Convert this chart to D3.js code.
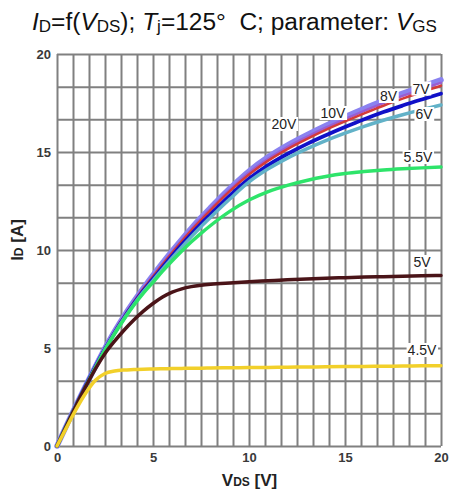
<!DOCTYPE html>
<html>
<head>
<meta charset="utf-8">
<script src="https://cdn.jsdelivr.net/npm/d3@7"></script>
<style>
  html, body { margin: 0; padding: 0; background: #fff; }
  svg { display: block; font-family: "Liberation Sans", Arial, sans-serif; }
</style>
</head>
<body>
<svg id="chart" width="451" height="490"></svg>
<script>
// ---- data ----
const vds  = [0,0.5,1,1.5,2,2.5,3,3.5,4,4.5,5,5.5,6,6.5,7,7.5,8,9,10,11,12,13,14,15,16,17,18,19,20];
const id20 = [0,1.06,2.09,3.09,4.06,5.0,5.86,6.65,7.38,8.07,8.72,9.35,9.96,10.55,11.12,11.66,12.17,13.15,14.03,14.75,15.35,15.87,16.35,16.8,17.22,17.62,17.99,18.34,18.68];
const id10 = [0,1.06,2.09,3.09,4.06,5.0,5.85,6.64,7.36,8.05,8.68,9.3,9.91,10.5,11.06,11.6,12.1,13.07,13.94,14.65,15.25,15.76,16.24,16.68,17.1,17.49,17.86,18.2,18.53];
const id8  = [0,1.06,2.09,3.09,4.06,4.99,5.84,6.62,7.34,8.02,8.64,9.26,9.86,10.44,11.0,11.53,12.03,13.0,13.85,14.56,15.15,15.66,16.13,16.56,16.97,17.36,17.72,18.06,18.38];
const id7  = [0,1.06,2.09,3.09,4.05,4.95,5.78,6.55,7.26,7.92,8.52,9.12,9.71,10.28,10.82,11.34,11.82,12.77,13.63,14.33,14.9,15.4,15.85,16.27,16.67,17.04,17.37,17.68,17.98];
const id6  = [0,1.05,2.07,3.06,4.01,4.93,5.76,6.52,7.22,7.86,8.44,9.03,9.6,10.15,10.68,11.19,11.67,12.6,13.47,14.14,14.69,15.16,15.58,15.96,16.31,16.62,16.9,17.16,17.4];
const id55 = [0,1.05,2.06,3.04,3.99,4.9,5.72,6.48,7.18,7.8,8.35,8.92,9.45,9.95,10.42,10.85,11.25,11.97,12.55,12.98,13.3,13.55,13.75,13.9,14.0,14.08,14.14,14.19,14.23];
const id5  = [0,1.05,2.07,3.04,3.94,4.72,5.35,5.92,6.43,6.88,7.27,7.6,7.85,8.02,8.13,8.2,8.25,8.32,8.38,8.43,8.48,8.52,8.56,8.59,8.62,8.64,8.66,8.68,8.7];
const id45 = [0,0.95,1.88,2.7,3.35,3.7,3.83,3.88,3.9,3.92,3.93,3.94,3.95,3.96,3.97,3.97,3.98,3.99,4.0,4.01,4.02,4.03,4.04,4.05,4.06,4.07,4.08,4.09,4.1];
const seriesNames = ["20V","10V","8V","7V","6V","5.5V","5V","4.5V"];
const xTicks = [0,5,10,15,20];
const yTicks = [0,5,10,15,20];

// ---- styling ----
const series = [
  {name:"20V",  vals:id20, color:"#8a82f0", w:5.5},
  {name:"10V",  vals:id10, color:"#9a5ed2", w:2.5},
  {name:"8V",   vals:id8,  color:"#d43a3a", w:2.5},
  {name:"7V",   vals:id7,  color:"#1010c8", w:3.8},
  {name:"6V",   vals:id6,  color:"#62b2c8", w:3.5},
  {name:"5.5V", vals:id55, color:"#2ee46a", w:3.5},
  {name:"5V",   vals:id5,  color:"#4a1418", w:3.5},
  {name:"4.5V", vals:id45, color:"#f2d02a", w:3.5}
];
const labelPos = {
  "20V":[284,124], "10V":[333,113], "8V":[388.5,96], "7V":[421,88.5],
  "6V":[424,114], "5.5V":[418,157], "5V":[422,262], "4.5V":[422,350]
};

const svg = d3.select("#chart");
const x = d3.scaleLinear().domain([0,20]).range([57,441]);
const y = d3.scaleLinear().domain([0,20]).range([446,54]);
const gridColor = "#808080";

// grid via axes
const gx = svg.append("g").attr("transform","translate(0,446)")
  .call(d3.axisBottom(x).tickValues(d3.range(0,25).map(i=>i*5/6)).tickSize(-392).tickFormat(""));
const gy = svg.append("g").attr("transform","translate(57,0)")
  .call(d3.axisLeft(y).tickValues(d3.range(0,13).map(i=>i*5/3)).tickSize(-384).tickFormat(""));
[gx,gy].forEach(g=>{
  g.select(".domain").remove();
  g.selectAll("line").attr("stroke",gridColor).attr("stroke-width",2);
});

// tick labels
const ax = svg.append("g").attr("transform","translate(0,446)")
  .call(d3.axisBottom(x).tickValues(xTicks).tickSize(0).tickPadding(7).tickFormat(d3.format("d")));
const ay = svg.append("g").attr("transform","translate(57,0)")
  .call(d3.axisLeft(y).tickValues(yTicks).tickSize(0).tickPadding(6).tickFormat(d3.format("d")));
[ax,ay].forEach(g=>{
  g.select(".domain").remove();
  g.selectAll("text").attr("font-family","Liberation Sans, Arial, sans-serif")
    .attr("font-size",13).attr("font-weight","bold").attr("fill","#3a3a3a");
});

// curves
const line = d3.line().x((d,i)=>x(vds[i])).y(d=>y(d)).curve(d3.curveMonotoneX);
svg.append("g").selectAll("path").data(series).join("path")
  .attr("d",d=>line(d.vals)).attr("fill","none")
  .attr("stroke",d=>d.color).attr("stroke-width",d=>d.w)
  .attr("stroke-linejoin","round").attr("stroke-linecap","round");

// curve labels with white background
const lg = svg.append("g");
seriesNames.forEach(n=>{
  const [cx,cy] = labelPos[n];
  const t = lg.append("text").attr("x",cx).attr("y",cy).attr("text-anchor","middle")
    .attr("dominant-baseline","central").attr("font-size",14).attr("fill","#222").text(n);
  const b = t.node().getBBox();
  lg.insert("rect","text").attr("x",b.x-1).attr("y",b.y+1).attr("width",b.width+2).attr("height",b.height-2).attr("fill","#fff");
});

// title
const title = svg.append("text").attr("x",32).attr("y",30).attr("text-anchor","start")
  .attr("font-size",23).attr("fill","#111");
const parts = [
  ["I","i"],["D","s"],["=f(","n"],["V","i"],["DS","s"],["); ","n"],
  ["T","i"],["j","s"],["=125°\u00a0 C; parameter: ","n"],["V","i"],["GS","s"]
];
parts.forEach(([txt,kind],i)=>{
  const ts = title.append("tspan").text(txt);
  if(kind==="i") ts.attr("font-style","italic");
  if(kind==="s") ts.attr("font-size",16).attr("dy",2);
  else if(i>0 && parts[i-1][1]==="s") ts.attr("dy",-2);
});
// fit title to reference span (x 32 .. 437)
const tw = title.node().getComputedTextLength();
title.attr("font-size", 23*405/tw);
title.selectAll("tspan").filter((d,i)=>parts[i][1]==="s").attr("font-size",16*405/tw);

// x axis title
const xt = svg.append("text").attr("x",249.5).attr("y",486).attr("text-anchor","middle")
  .attr("font-size",17).attr("font-weight","bold").attr("fill","#222");
xt.append("tspan").text("V");
xt.append("tspan").attr("font-size",12).text("DS");
xt.append("tspan").text(" [V]");

// y axis title
const yt = svg.append("text").attr("transform","translate(23,240) rotate(-90)").attr("text-anchor","middle")
  .attr("font-size",17).attr("font-weight","bold").attr("fill","#222");
yt.append("tspan").text("I");
yt.append("tspan").attr("font-size",12).text("D");
yt.append("tspan").text(" [A]");
</script>
</body>
</html>
